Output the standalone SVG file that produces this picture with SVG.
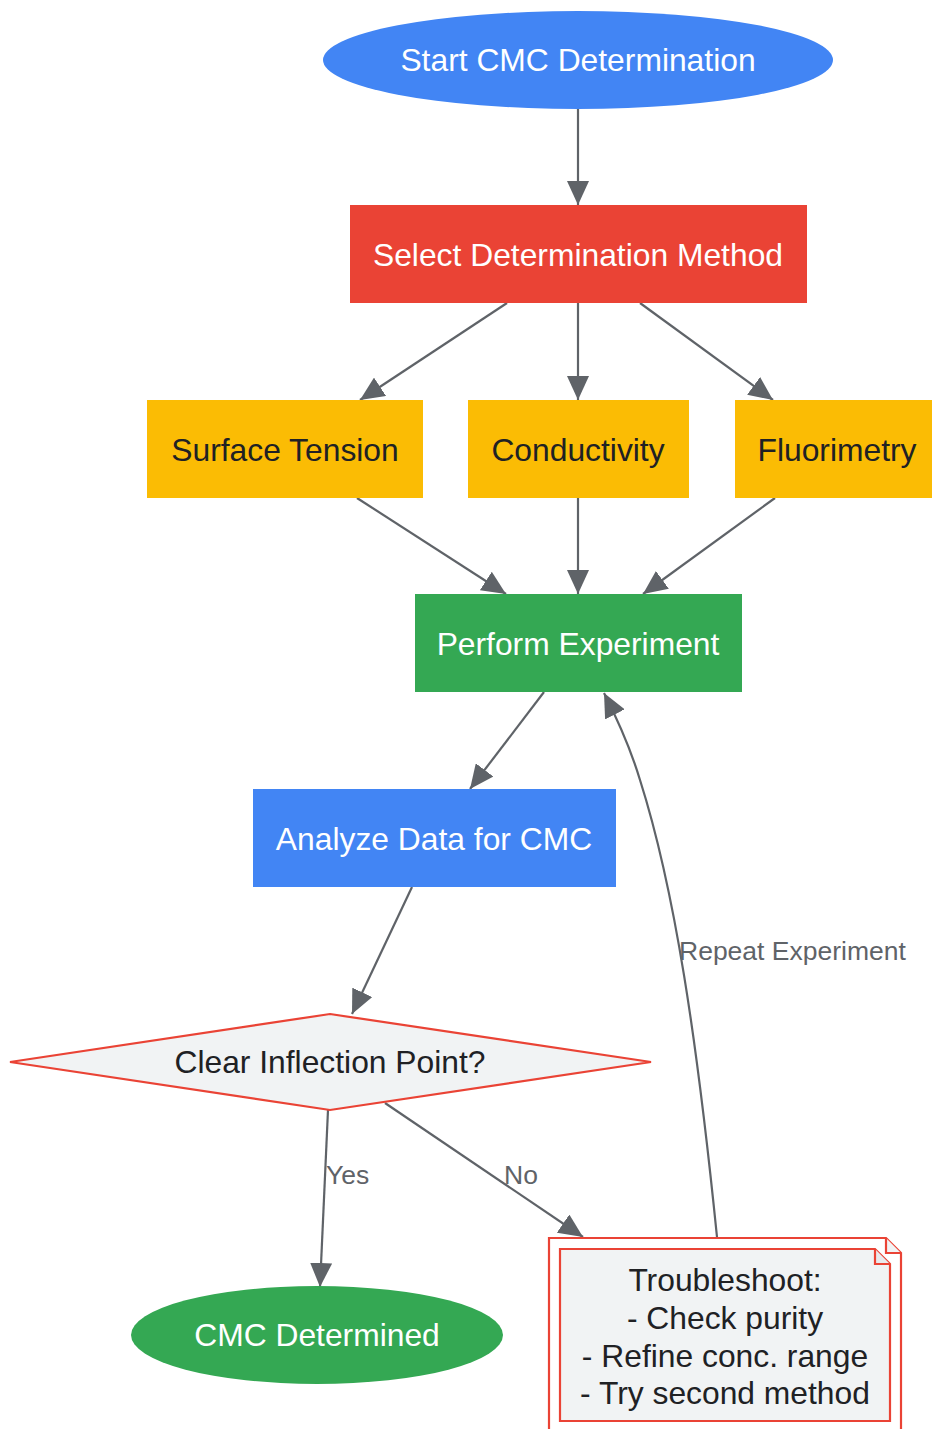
<svg xmlns="http://www.w3.org/2000/svg" width="932" height="1429" viewBox="0 0 932 1429">
<defs>
<style>
.t{font-family:"Liberation Sans",Arial,sans-serif;font-size:31.8px;text-anchor:middle;dominant-baseline:central}
.w{fill:#ffffff}
.d{fill:#202124}
.lbl{font-family:"Liberation Sans",Arial,sans-serif;font-size:26.5px;fill:#5f6368;dominant-baseline:central}
.e{fill:none;stroke:#5f6368;stroke-width:2.2}
.nt{stroke:#ea4335;stroke-width:2.2}
</style>
<marker id="ah" markerUnits="userSpaceOnUse" markerWidth="26" markerHeight="22" refX="24" refY="11" orient="auto">
<path d="M0,0 L24,11 L0,22 z" fill="#5f6368"/>
</marker>
</defs>
<rect width="932" height="1429" fill="#ffffff"/>
<g id="connectors">
<path class="e" d="M578,109 L578,205" marker-end="url(#ah)"/>
<path class="e" d="M507,303 L360,400" marker-end="url(#ah)"/>
<path class="e" d="M578,303 L578,400" marker-end="url(#ah)"/>
<path class="e" d="M640,303 L773,400" marker-end="url(#ah)"/>
<path class="e" d="M357,498 L506,594" marker-end="url(#ah)"/>
<path class="e" d="M578,498 L578,594" marker-end="url(#ah)"/>
<path class="e" d="M775,498 L643,594" marker-end="url(#ah)"/>
<path class="e" d="M544,692 L470,789" marker-end="url(#ah)"/>
<path class="e" d="M412,887 L352,1014" marker-end="url(#ah)"/>
<path class="e" d="M328,1110 L320,1287" marker-end="url(#ah)"/>
<path class="e" d="M385,1103 L583,1237" marker-end="url(#ah)"/>
<path class="e" d="M717,1237 C697,1040 675,890 640,780 Q628,740 604,693" marker-end="url(#ah)"/>
<text class="lbl" x="326" y="1175">Yes</text>
<text class="lbl" x="504" y="1175">No</text>
<text class="lbl" x="679" y="951">Repeat Experiment</text>
</g>
<g id="start">
<ellipse cx="578" cy="60" rx="255" ry="49" fill="#4285f4"/>
<text class="t w" x="578" y="60">Start CMC Determination</text>
</g>
<g id="select">
<rect x="350" y="205" width="457" height="98" fill="#ea4335"/>
<text class="t w" x="578" y="255">Select Determination Method</text>
</g>
<g id="surface">
<rect x="147" y="400" width="276" height="98" fill="#fbbc04"/>
<text class="t d" x="285" y="450">Surface Tension</text>
</g>
<g id="conductivity">
<rect x="468" y="400" width="221" height="98" fill="#fbbc04"/>
<text class="t d" x="578" y="450">Conductivity</text>
</g>
<g id="fluorimetry">
<rect x="735" y="400" width="204" height="98" fill="#fbbc04"/>
<text class="t d" x="837" y="450">Fluorimetry</text>
</g>
<g id="perform">
<rect x="415" y="594" width="327" height="98" fill="#34a853"/>
<text class="t w" x="578" y="644">Perform Experiment</text>
</g>
<g id="analyze">
<rect x="253" y="789" width="363" height="98" fill="#4285f4"/>
<text class="t w" x="434" y="839">Analyze Data for CMC</text>
</g>
<g id="decision">
<polygon points="330,1014 651,1062 330,1110 10,1062" fill="#f1f3f4" stroke="#ea4335" stroke-width="2.2"/>
<text class="t d" x="330" y="1062">Clear Inflection Point?</text>
</g>
<g id="determined">
<ellipse cx="317" cy="1335" rx="186" ry="49" fill="#34a853"/>
<text class="t w" x="317" y="1335">CMC Determined</text>
</g>
<g id="troubleshoot">
<path class="nt" d="M549,1238 H886 L901,1253 V1445 H549 Z" fill="#ffffff"/>
<path class="nt" d="M886,1238 V1253 H901" fill="#f1f3f4"/>
<path class="nt" d="M560,1249 H875 L890,1264 V1421 H560 Z" fill="#f1f3f4"/>
<path class="nt" d="M875,1249 V1264 H890" fill="#e8eaed"/>
<text class="t d" x="725" y="1280">Troubleshoot:</text>
<text class="t d" x="725" y="1318">- Check purity</text>
<text class="t d" x="725" y="1356">- Refine conc. range</text>
<text class="t d" x="725" y="1393">- Try second method</text>
</g>
</svg>
